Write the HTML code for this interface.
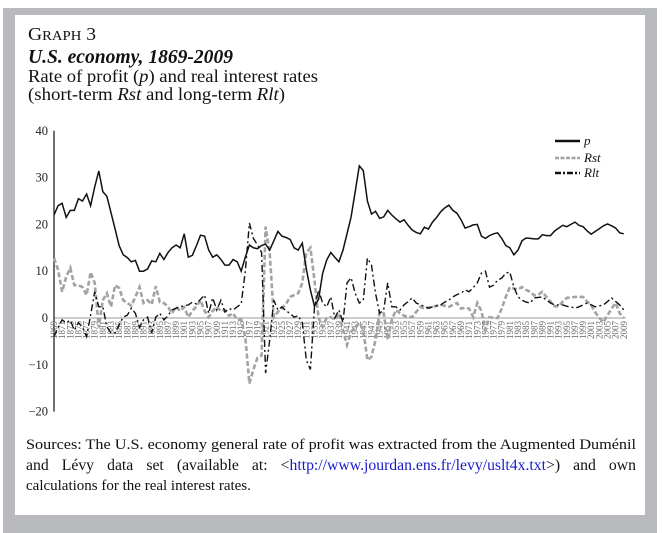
<!DOCTYPE html>
<html><head><meta charset="utf-8"><style>
html,body{margin:0;padding:0;background:#fff;}
svg{display:block;}
</style></head><body>
<svg width="664" height="533" viewBox="0 0 664 533" xmlns="http://www.w3.org/2000/svg">
<rect x="3" y="8" width="654" height="525" fill="#b9babd"/>
<rect x="15" y="15" width="630" height="500" fill="#fff"/>
<g font-family="'Liberation Serif', serif" fill="#111">
<text x="28" y="40" font-size="18" textLength="68" lengthAdjust="spacingAndGlyphs">G<tspan font-size="13.5">RAPH</tspan> 3</text>
<text x="28" y="63" font-size="19.5" font-weight="bold" font-style="italic" textLength="205" lengthAdjust="spacingAndGlyphs">U.S. economy, 1869-2009</text>
<text x="28" y="82" font-size="18" textLength="290" lengthAdjust="spacingAndGlyphs">Rate of profit (<tspan font-style="italic">p</tspan>) and real interest rates</text>
<text x="28" y="100" font-size="18" textLength="257" lengthAdjust="spacingAndGlyphs">(short-term <tspan font-style="italic">Rst</tspan> and long-term <tspan font-style="italic">Rlt</tspan>)</text>
</g>
<g id="chart"></g>
<g font-family="'Liberation Serif', serif" font-size="15" fill="#111">
<text x="26" y="449" textLength="610" lengthAdjust="spacingAndGlyphs">Sources: The U.S. economy general rate of profit was extracted from the Augmented Duménil</text>
<text x="26" y="470" font-size="15.5" word-spacing="9" textLength="610" lengthAdjust="spacingAndGlyphs">and Lévy data set (available at: &lt;<tspan fill="#1a1acc">http://www.jourdan.ens.fr/levy/uslt4x.txt</tspan>&gt;) and own</text>
<text x="26" y="490">calculations for the real interest rates.</text>
</g>
</svg>
<script>
const startYear = 1869;
const yTicks = [40, 30, 20, 10, 0, -10, -20];
const seriesP = [22,24,24.5,21.5,23,23,25.5,25,26.5,24,28,31.4,27,26,22.5,19,15.5,13.5,12.9,12,12.3,10,10,10.5,12.2,12,13.8,12.5,14,15,15.6,15,18,13,13.4,15.5,17.7,17.5,14.5,13,13.5,12.5,11.3,11.3,12.5,12,10,13,15.6,15,14.8,15.5,15.8,14.5,16.5,18.5,17.5,17.2,16.8,15,14.5,16,10.5,6,2.5,4,9.5,12.4,14,13,12,14.5,18,21.6,27,32.5,31.5,25,22.2,22.8,21.3,21.6,23,22,21.2,20.5,21,19.8,18.8,18.3,18,19.4,19,20.5,21.5,22.7,23.5,24.1,23,22.4,21,19.2,19.5,19.9,20,17.5,17,17.6,18,18.2,17,15.5,15,13.5,14.5,16.5,17.1,17,16.9,16.9,17.8,17.6,17.6,18.6,19.2,19.8,19.5,20,20.5,19.8,19.5,18.6,17.9,18.5,19.1,19.7,20.1,19.7,19.2,18.2,18];
const seriesRst = [12.8,10.3,5.6,8.8,10.7,7,7,6.6,4.9,9.8,7.5,-2,3.8,5.3,2.4,7,6.4,3.8,3.2,2.6,4.5,6.6,3.2,3.8,2.9,6.8,3.4,3.2,2.4,1,2.4,1.5,2.3,0.2,1.5,2.5,3.8,1.5,0.2,1.5,2.4,1.5,1.7,0.5,1,-0.4,-0.4,-4,-14,-11,-8.5,-8,19.5,13.9,0.2,1.3,2,3,4.5,4.9,5.3,7.5,14,15,8,0,-1.9,0,0.2,-0.4,1,-2.6,-5.8,-3,-1.9,-1.1,-2.6,-9,-8.3,-4.7,1.3,1,-4.7,-0.4,1.7,1,0.5,0.2,0.2,1.3,2.4,2,2.2,2.4,2.6,2.8,2.6,2.4,2.8,3.2,2,2.2,2,0.2,3.2,1.5,-2.6,0.2,0,0,2,4.5,6.6,6.3,6.1,6.6,6,5.6,4.8,5,5.6,4.5,3.5,2.5,2.5,3.5,4.3,4.4,4.5,4.5,4.5,3.5,2.8,1.2,0,-0.9,0.6,2,3.2,1,0];
const seriesRlt = [-4,-2,-0.4,-1,-0.5,-2.6,-1,-2,-4,0.6,5.6,2.4,2.4,-1.9,-3.2,-3.2,-1.5,0.2,0.6,2.1,1,-2,-0.4,0.2,-3.2,0.2,1,-0.4,0.5,1.7,2.1,2.4,2.6,2.8,3.4,3,4,4.9,1,4.3,1.7,3.8,1.3,2,1.7,2.4,3,10,20.3,17,15.6,14,-11.8,-4.7,3.8,1.7,2.4,1.5,1,0.2,0.5,-1,-9,-11,2.4,6,3.2,2.4,4.5,0,1.7,-0.9,7.5,8.6,5.3,3.2,3.8,12.8,11.3,5.3,1,1.7,7.5,2.4,2.4,1.7,2.8,3.5,4.3,3.2,2.8,2.5,2.1,2.4,2.6,2.8,3.4,3.8,4.5,5,5.3,6,5.6,6.5,7.5,9.6,10,6.6,7,8.1,8.5,9.6,9.8,6.6,4.5,3.8,3.4,3.2,4.3,4.4,4.5,3.8,3.2,2.8,2.8,2.8,2.5,2.4,2.1,2.4,2.8,3.2,2.8,2.4,2.6,2.8,3.5,4.3,3.5,2.8,1.7];
const legendLabels = ["p", "Rst", "Rlt"];

const NS = "http://www.w3.org/2000/svg";
const chart = document.getElementById("chart");
const X0 = 54, XSTEP = 4.07, Y0 = 318, YUNIT = 4.68;
function xPos(i){ return X0 + i * XSTEP; }
function yPos(v){ return Y0 - v * YUNIT; }
function mk(tag, attrs){ const e = document.createElementNS(NS, tag); for (const k in attrs) e.setAttribute(k, attrs[k]); chart.appendChild(e); return e; }

const n = seriesP.length;
let e;
e = mk("line", {x1: X0, x2: xPos(n-1)+2, y1: yPos(0), y2: yPos(0), stroke: "#999", "stroke-width": 1});


e = mk("line", {x1: X0, x2: X0, y1: yPos(40), y2: yPos(-20), stroke: "#111", "stroke-width": 1.2});



yTicks.forEach(t => {
  const lab = mk("text", {x: X0 - 6, y: yPos(t) + 4, "text-anchor": "end", "font-family": "'Liberation Serif', serif", "font-size": 12.5, fill: "#222"});
  lab.textContent = t < 0 ? "\u2212" + Math.abs(t) : String(t);
  
  
});

for (let i = 0; i < n; i += 2) {
  const xx = xPos(i) + 3, yy = Y0 + 3;
  const lab = mk("text", {x: xx, y: yy, transform: `rotate(-90 ${xx} ${yy})`, "text-anchor": "end", "font-family": "'Liberation Serif', serif", "font-size": 9, fill: "#666"});
  lab.textContent = String(startYear + i);
  
  
}

function pathOf(arr){ return arr.map((v,i)=> (i?"L":"M") + xPos(i).toFixed(1) + "," + yPos(v).toFixed(1)).join(""); }
e = mk("path", {d: pathOf(seriesRst), fill: "none", stroke: "#a3a3a3", "stroke-width": 2.6, "stroke-dasharray": "5,2.5"});


e = mk("path", {d: pathOf(seriesRlt), fill: "none", stroke: "#111", "stroke-width": 1.4, "stroke-dasharray": "7,3,2,3"});


e = mk("path", {d: pathOf(seriesP), fill: "none", stroke: "#111", "stroke-width": 1.5});



const legStyles = [
  {stroke: "#111", "stroke-width": 2.5},
  {stroke: "#a3a3a3", "stroke-width": 2.5, "stroke-dasharray": "4,1.5"},
  {stroke: "#111", "stroke-width": 2.5, "stroke-dasharray": "6,2,2,2"}
];
const legY = [141, 158, 173];
legendLabels.forEach((name, k) => {
  const ln = mk("line", Object.assign({x1: 555, x2: 580, y1: legY[k], y2: legY[k]}, legStyles[k]));
  
  
  const t = mk("text", {x: 584, y: legY[k] + 4, "font-family": "'Liberation Serif', serif", "font-size": 13, "font-style": "italic", fill: "#111"});
  t.textContent = name;
  
  
});
</script>
</body></html>
